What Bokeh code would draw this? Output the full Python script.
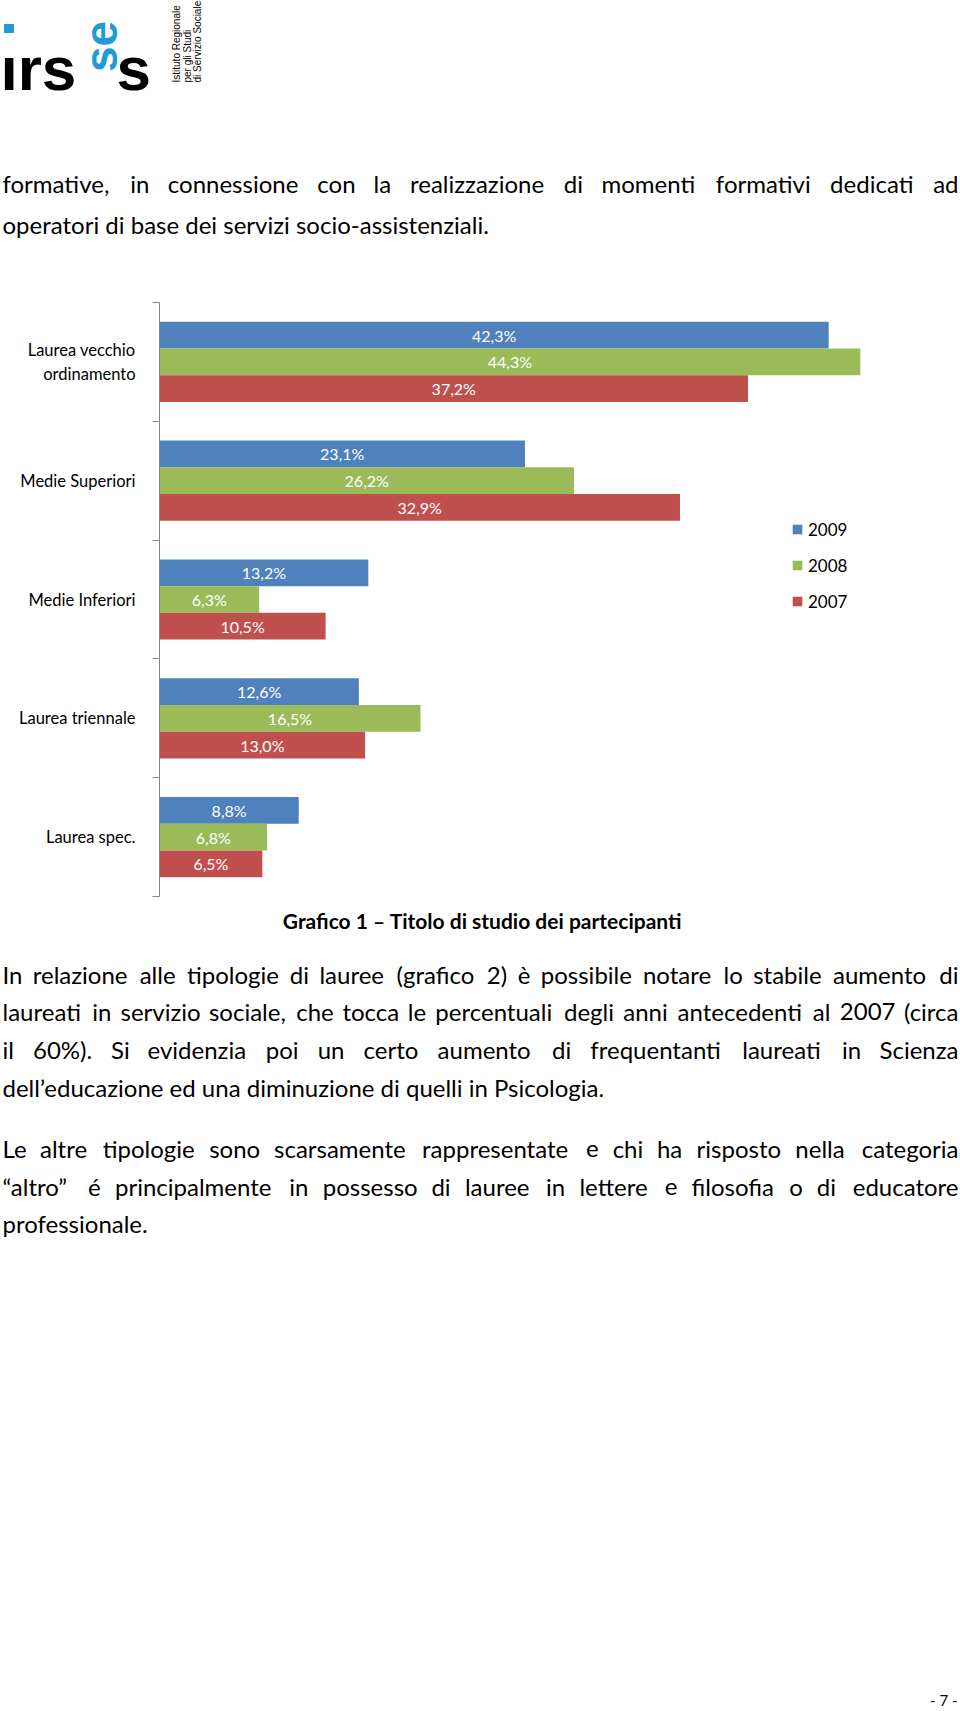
import math
from bokeh.plotting import figure
from bokeh.models import Range1d, FixedTicker, Legend, LegendItem, ColumnDataSource
from bokeh.layouts import column
from bokeh.embed import file_html
from bokeh.resources import INLINE
from bokeh.core.properties import value

# ---------------- data ----------------
categories = ["Laurea vecchio ordinamento", "Medie Superiori", "Medie Inferiori",
              "Laurea triennale", "Laurea spec."]
category_labels = ["Laurea vecchio\nordinamento", "Medie Superiori", "Medie Inferiori",
                   "Laurea triennale", "Laurea spec."]
years = ["2009", "2008", "2007"]
v2009 = [42.3, 23.1, 13.2, 12.6, 8.8]
v2008 = [44.3, 26.2, 6.3, 16.5, 6.8]
v2007 = [37.2, 32.9, 10.5, 13.0, 6.5]
colors = ["#4F81BD", "#9BBB59", "#C0504D"]

para_top = [
    ("formative, in connessione con la realizzazione di momenti formativi dedicati ad", True),
    ("operatori di base dei servizi socio-assistenziali.", False),
]
caption = "Grafico 1 \u2013 Titolo di studio dei partecipanti"
para_a = [
    ("In relazione alle tipologie di lauree (grafico 2) \u00e8 possibile notare lo stabile aumento di", True),
    ("laureati in servizio sociale, che tocca le percentuali degli anni antecedenti al 2007 (circa", True),
    ("il 60%). Si evidenzia poi un certo aumento di frequentanti laureati in Scienza", True),
    ("dell\u2019educazione ed una diminuzione di quelli in Psicologia.", False),
]
para_b = [
    ("Le altre tipologie sono scarsamente rappresentate e chi ha risposto nella categoria", True),
    ("\u201caltro\u201d \u00e9 principalmente in possesso di lauree in lettere e filosofia o di educatore", True),
    ("professionale.", False),
]
page_no = "- 7 -"
logo_main = "\u0131rs"
logo_blue = "se"
logo_end = "s"
logo_lines = ["Istituto Regionale", "per gli Studi", "di Servizio Sociale"]

BODY_FONT = "Lato"
BODY_SIZE = "24px"
LOGO_BLUE = "#1f9bd7"

# approximate Calibri advance widths (per 1000 em) used to justify lines
CAL = {' ': 226, 'a': 479, 'b': 525, 'c': 423, 'd': 525, 'e': 498, 'f': 305, 'g': 471,
       'h': 525, 'i': 229, 'j': 239, 'k': 455, 'l': 229, 'm': 799, 'n': 525, 'o': 527,
       'p': 525, 'q': 525, 'r': 349, 's': 391, 't': 335, 'u': 525, 'v': 452, 'w': 715,
       'x': 433, 'y': 453, 'z': 395, 'I': 252, 'L': 420, 'S': 459, 'P': 517, 'G': 631,
       'T': 487, 'C': 533, '(': 303, ')': 303, '%': 715, '.': 252, ',': 250,
       '\u2019': 250, '\u201c': 418, '\u201d': 418, '\u00e8': 498, '\u00e9': 498, '-': 306}
for d in "0123456789":
    CAL[d] = 507


def cal_w(s, em):
    return sum(CAL.get(c, 500) for c in s) / 1000.0 * em


def layout_line(line, justify, left=2.0, right=958.0, em=26.0):
    if not justify:
        return [(left, line, "left")]
    words = line.split(" ")
    ws = [cal_w(w, em) for w in words]
    gap = (right - left - sum(ws)) / (len(words) - 1)
    out = []
    x = left
    for k, (w, wd) in enumerate(zip(words, ws)):
        if k == len(words) - 1:
            out.append((right, w, "right"))
        else:
            out.append((x, w, "left"))
        x += wd + gap
    return out


def draw_lines(p, lines, ys):
    for (line, just), y in zip(lines, ys):
        items = layout_line(line, just)
        for align in ("left", "right"):
            sel = [it for it in items if it[2] == align]
            if not sel:
                continue
            p.text(x=[it[0] for it in sel], y=[y] * len(sel), text=[it[1] for it in sel],
                   text_align=align, text_baseline="middle", text_color="#000000",
                   text_font=value(BODY_FONT), text_font_size=BODY_SIZE)


def page_fig(h, y0, y1):
    p = figure(width=960, height=h, x_range=Range1d(0, 960), y_range=Range1d(y1, y0),
               output_backend="svg", toolbar_location=None, min_border=0,
               x_axis_location=None, y_axis_location=None, outline_line_color=None,
               frame_align=False)
    p.grid.visible = False
    return p


# ---------------- header (logo + paragraph end) ----------------
hd = page_fig(290, 0, 290)
hd.text(x=[0], y=[68], text=[logo_main], text_font=value("Liberation Sans"),
        text_font_style="bold", text_font_size="62px", text_baseline="alphabetic",
        text_color="#000000")
hd.quad(left=[4], right=[13], top=[24], bottom=[32], color=LOGO_BLUE)
# blue rotated letters (reading bottom to top), centred in their slot
hd.text(x=[100], y=[46], text=[logo_blue], angle=math.pi / 2,
        text_font=value("Liberation Sans"), text_font_style="bold", text_font_size="46px",
        text_baseline="middle", text_align="center", text_color=LOGO_BLUE)
hd.text(x=[116], y=[68], text=[logo_end], text_font=value("Liberation Sans"),
        text_font_style="bold", text_font_size="62px", text_baseline="alphabetic",
        text_color="#000000")
hd.text(x=[176, 187, 197], y=[82, 82, 82], text=logo_lines, angle=math.pi / 2,
        text_font=value("Liberation Sans"), text_font_size="10px",
        text_baseline="alphabetic", text_align="left", text_color="#000000")
draw_lines(hd, para_top, [183, 224])

# ---------------- chart ----------------
ch = figure(width=960, height=610, x_range=Range1d(0, 50), y_range=Range1d(0, 5),
            output_backend="svg", toolbar_location=None, min_border_left=159,
            min_border_right=10, min_border_top=12, min_border_bottom=4,
            x_axis_location=None, outline_line_color=None, frame_align=False)
ch.grid.visible = False

n = len(categories)
centers = [n - 0.5 - i for i in range(n)]
ch.yaxis.ticker = FixedTicker(ticks=centers, minor_ticks=list(range(n + 1)))
ch.yaxis.major_label_overrides = {c: lab for c, lab in zip(centers, category_labels)}
ch.yaxis.major_tick_line_color = None
ch.yaxis.major_tick_out = 0
ch.yaxis.major_tick_in = 0
ch.yaxis.minor_tick_out = 7
ch.yaxis.minor_tick_in = 0
ch.yaxis.minor_tick_line_color = "#868686"
ch.yaxis.axis_line_color = "#868686"
ch.yaxis.major_label_standoff = 17
ch.yaxis.major_label_text_font = "Lato"
ch.yaxis.major_label_text_font_size = "16.5px"
ch.yaxis.major_label_text_color = "#000000"

bar_h = 0.225
offsets = [bar_h, 0.0, -bar_h]
series = [v2009, v2008, v2007]
renderers = []
for off, vals, col in zip(offsets, series, colors):
    src = ColumnDataSource(dict(
        y=[c + off for c in centers],
        right=vals,
        xc=[v / 2.0 for v in vals],
        lab=[("%.1f" % v).replace(".", ",") + "%" for v in vals],
    ))
    r = ch.hbar(y="y", left=0, right="right", height=bar_h, fill_color=col,
                line_color=None, source=src)
    renderers.append(r)
    ch.text(x="xc", y="y", text="lab", source=src, text_align="center",
            text_baseline="middle", text_color="#ffffff", text_font=value("Lato"),
            text_font_size="16px")

legend = Legend(items=[LegendItem(label=y, renderers=[r]) for y, r in zip(years, renderers)],
                location=(632, 284), glyph_width=12, glyph_height=12, label_height=22,
                spacing=14, padding=0, margin=0, label_standoff=5,
                label_text_font="Lato", label_text_font_size="17px",
                label_text_color="#000000", border_line_color=None,
                background_fill_alpha=0)
ch.add_layout(legend)

# ---------------- footer ----------------
ft = page_fig(811, 900, 1711)
ft.text(x=[482], y=[920], text=[caption], text_align="center", text_baseline="middle",
        text_font=value(BODY_FONT), text_font_style="bold", text_font_size="21px",
        text_color="#000000")
draw_lines(ft, para_a, [974, 1011, 1049, 1087])
draw_lines(ft, para_b, [1148, 1186, 1223])
ft.text(x=[957], y=[1699], text=[page_no], text_align="right", text_baseline="middle",
        text_font=value(BODY_FONT), text_font_size="15px", text_color="#000000")

layout = column(hd, ch, ft, spacing=0)
open("out.html", "w").write(file_html(layout, INLINE))
